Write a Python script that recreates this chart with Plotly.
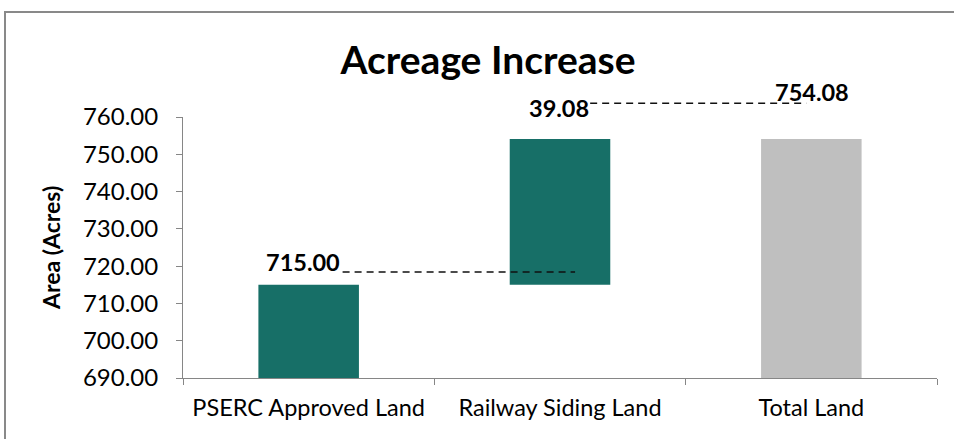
import plotly.graph_objects as go

categories = ["PSERC Approved Land", "Railway Siding Land", "Total Land"]
approved = 715.00
railway = 39.08
total = approved + railway  # 754.08
bar_heights = [approved, railway, total]
bar_bases = [0, approved, 0]
bar_colors = ["#176F67", "#176F67", "#BFBFBF"]
label_texts = [f"{approved:.2f}", f"{railway:.2f}", f"{total:.2f}"]
label_tops = [approved, total, total]
y_ticks = [690, 700, 710, 720, 730, 740, 750, 760]

FONT = "Lato"
W, H = 954, 439
L, R, T, B = 183, 17, 117, 61
ymin, ymax = 690, 760

fig = go.Figure()
fig.add_trace(go.Bar(
    x=categories, y=bar_heights, base=bar_bases,
    marker=dict(color=bar_colors, line=dict(width=0)),
    width=0.4, hoverinfo="skip",
))

# data labels
label_shift = [(-6, 23), (-1, 31), (1, 47)]
for i, (c, t, yv) in enumerate(zip(categories, label_texts, label_tops)):
    fig.add_annotation(x=c, y=yv, text=f"<b>{t}</b>", showarrow=False,
                       xshift=label_shift[i][0], yshift=label_shift[i][1],
                       font=dict(family=FONT, size=23.5, color="#000000"))

def cx(pos):
    return (pos + 0.5) / len(categories)

def py(v):
    return (v - ymin) / (ymax - ymin)

# connector dashed lines
fig.add_shape(type="line", xref="paper", yref="paper",
              x0=cx(0.135), x1=cx(1.06), y0=py(approved + 3.4), y1=py(approved + 3.4),
              line=dict(color="#111111", width=1.5, dash="7px,5px"))
fig.add_shape(type="line", xref="paper", yref="paper",
              x0=cx(1.12), x1=cx(1.98), y0=py(total + 9.6), y1=py(total + 9.6),
              line=dict(color="#111111", width=1.5, dash="7px,5px"))

# outer chart border
pw, ph = W - L - R, H - T - B
def px_x(p):
    return (p - L) / pw
def px_y(p):
    return (H - B - p) / ph
fig.add_shape(type="rect", xref="paper", yref="paper",
              x0=px_x(5), x1=px_x(W + 60), y0=px_y(H + 60), y1=px_y(12),
              line=dict(color="#898989", width=2), fillcolor="rgba(0,0,0,0)", layer="below")

# y axis title
fig.add_annotation(xref="paper", yref="paper", x=px_x(35), y=px_y(248),
                   text="<b>Area (Acres)</b>", textangle=-90, showarrow=False,
                   font=dict(family=FONT, size=23, color="#000000"))

fig.update_layout(
    width=W, height=H,
    margin=dict(l=L, r=R, t=T, b=B),
    paper_bgcolor="white", plot_bgcolor="white",
    showlegend=False,
    bargap=0.6,
    title=dict(text="<b>Acreage Increase</b>", x=488 / W, xanchor="center",
               xref="container", yref="container", y=1 - 60 / H, yanchor="middle",
               font=dict(family=FONT, size=39, color="#000000")),
    font=dict(family=FONT, color="#000000"),
)
fig.update_xaxes(showline=True, linecolor="#868686", linewidth=1,
                 ticks="outside", tickson="boundaries", ticklen=6, tickcolor="#868686",
                 tickfont=dict(family=FONT, size=23.5, color="#000000"),
                 ticklabelstandoff=9, showgrid=False, zeroline=False)
fig.update_yaxes(range=[ymin, ymax], tickvals=y_ticks,
                 ticktext=[f"{v:.2f}" for v in y_ticks],
                 showline=True, linecolor="#868686", linewidth=1,
                 ticks="outside", ticklen=6, tickcolor="#868686",
                 tickfont=dict(family=FONT, size=24, color="#000000"),
                 ticklabelstandoff=13, showgrid=False, zeroline=False)

fig.write_html("out.html", config={"displayModeBar": False})
